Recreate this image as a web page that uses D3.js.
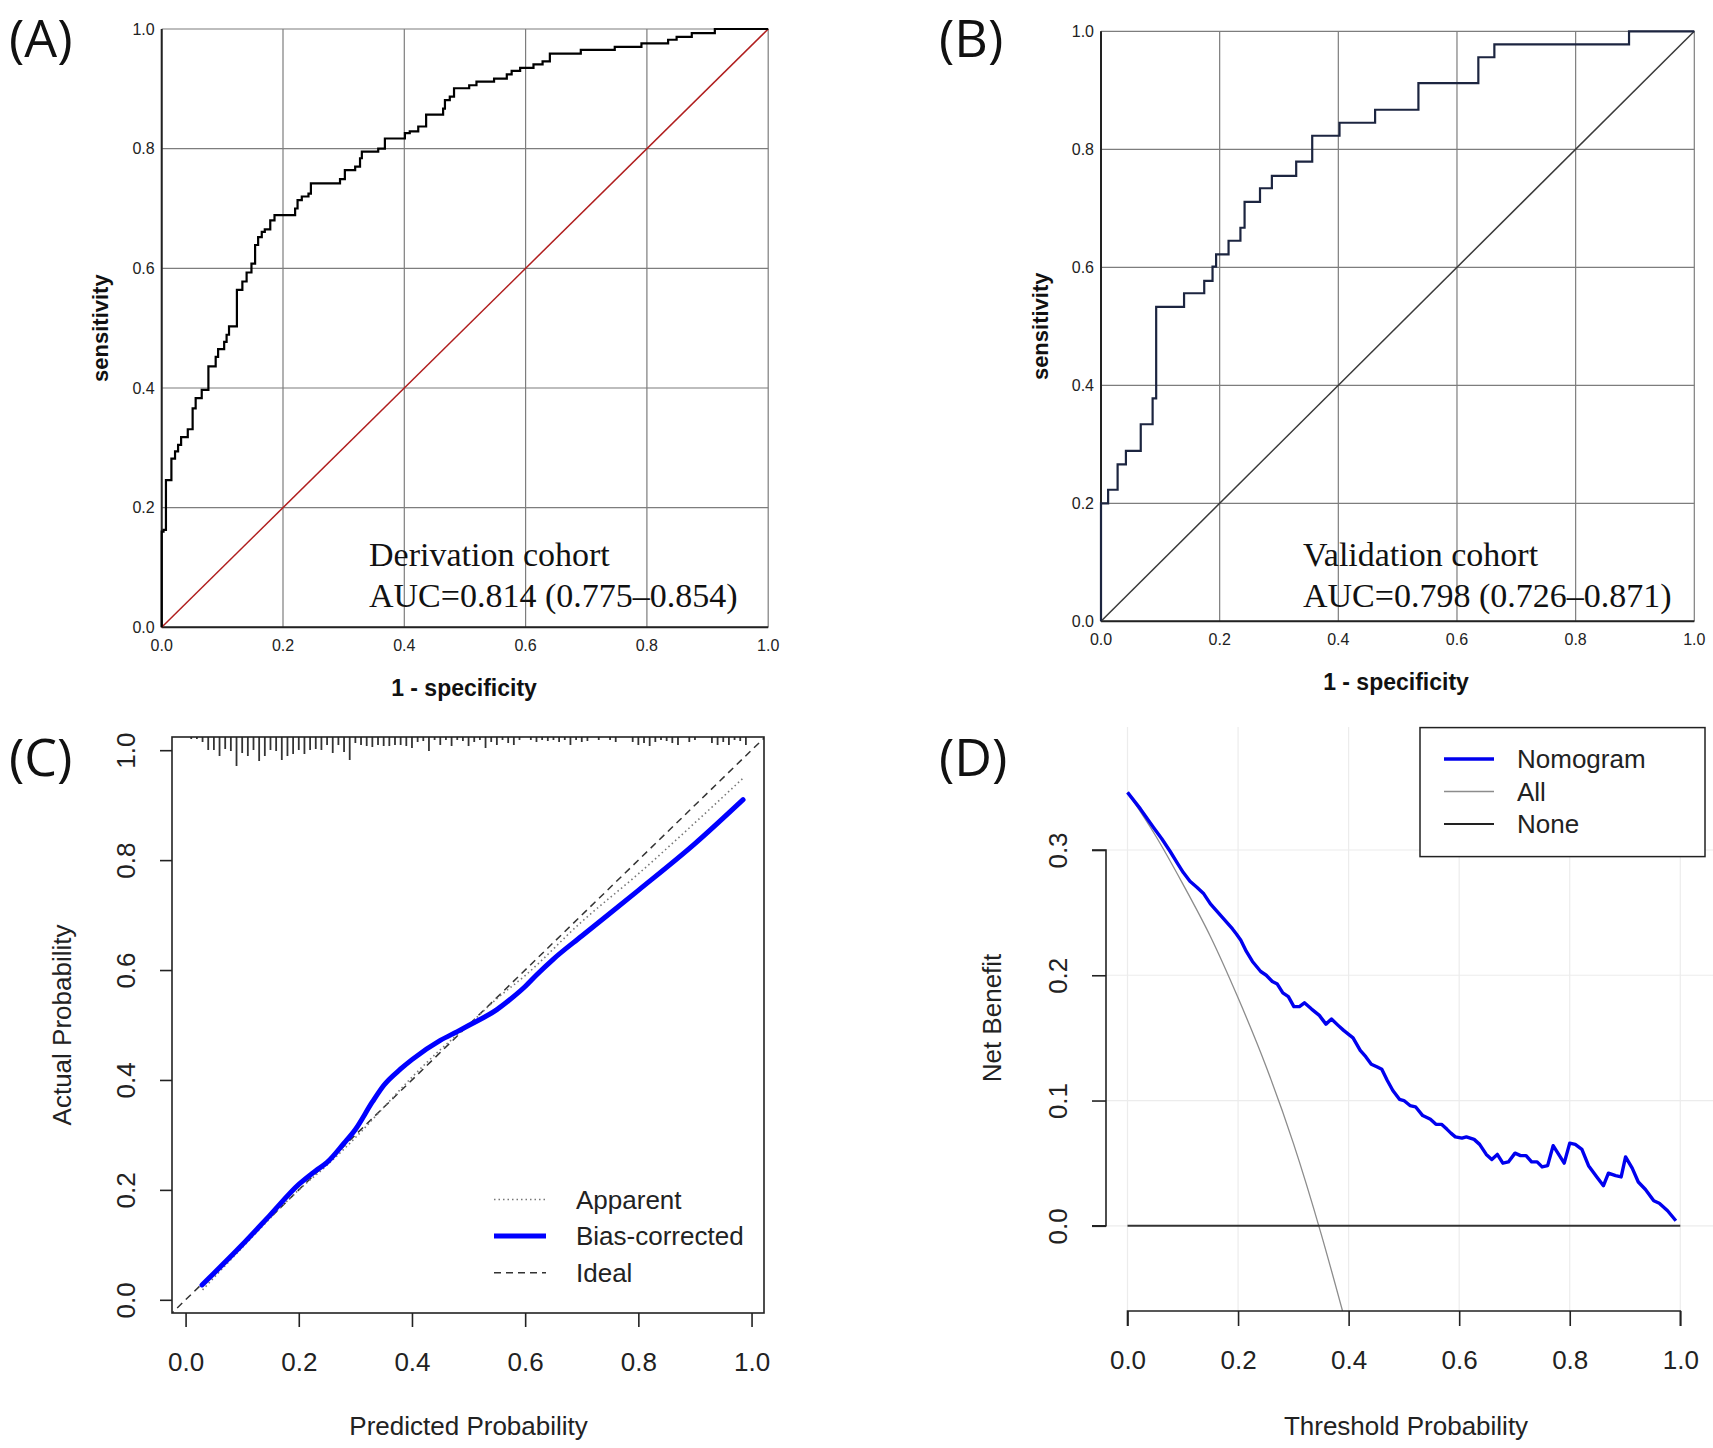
<!DOCTYPE html>
<html>
<head>
<meta charset="utf-8">
<script src="https://cdn.jsdelivr.net/npm/d3@7"></script>
<style>
  body { margin: 0; background: #fff; }
  svg { display: block; }
</style>
</head>
<body>
<script>
// ---- data ----
const rocTicks = [0, 0.2, 0.4, 0.6, 0.8, 1.0];

// (A) derivation cohort ROC, corner points [1 - specificity, sensitivity]
const rocA = [[0,0],[0,0.160],[0.003,0.163],[0.007,0.246],[0.016,0.282],[0.022,0.294],[0.027,0.305],[0.032,0.318],[0.043,0.331],
  [0.051,0.366],[0.056,0.383],[0.066,0.397],[0.077,0.436],[0.089,0.452],[0.093,0.465],[0.103,0.477],[0.107,0.489],[0.111,0.503],
  [0.124,0.564],[0.133,0.578],[0.140,0.593],[0.148,0.608],[0.154,0.639],[0.159,0.652],[0.165,0.661],[0.170,0.665],[0.179,0.680],
  [0.186,0.689],[0.220,0.700],[0.224,0.714],[0.231,0.720],[0.242,0.725],[0.246,0.742],[0.294,0.749],[0.302,0.764],[0.319,0.770],
  [0.327,0.784],[0.330,0.795],[0.357,0.800],[0.368,0.817],[0.401,0.826],[0.409,0.829],[0.423,0.837],[0.436,0.857],[0.464,0.867],
  [0.467,0.881],[0.475,0.887],[0.482,0.901],[0.507,0.906],[0.519,0.912],[0.548,0.917],[0.569,0.924],[0.577,0.930],[0.591,0.935],
  [0.613,0.941],[0.628,0.946],[0.640,0.959],[0.691,0.965],[0.747,0.970],[0.791,0.976],[0.835,0.982],[0.849,0.987],[0.874,0.993],
  [0.912,1.0],[1.0,1.0]];

// (B) validation cohort ROC
const rocB = [[0,0],[0,0.2],[0.012,0.223],[0.028,0.266],[0.042,0.289],[0.067,0.334],[0.087,0.378],[0.093,0.533],[0.140,0.556],
  [0.174,0.577],[0.188,0.601],[0.194,0.622],[0.215,0.645],[0.235,0.667],[0.242,0.711],[0.268,0.734],[0.288,0.755],[0.329,0.779],
  [0.356,0.823],[0.402,0.845],[0.462,0.867],[0.535,0.912],[0.636,0.956],[0.663,0.978],[0.890,1.0],[1.0,1.0]];

const refLine = [[0,0],[1,1]];
const labelA = ["Derivation cohort", "AUC=0.814 (0.775\u20130.854)"];
const labelB = ["Validation cohort", "AUC=0.798 (0.726\u20130.871)"];

// (C) calibration
const calTicks = [0, 0.2, 0.4, 0.6, 0.8, 1.0];
const biasX = [0.029,0.1,0.15,0.2,0.23,0.25,0.28,0.3,0.33,0.35,0.38,0.4,0.45,0.48,0.5,0.55,0.58,0.6,0.62,0.65,0.7,0.8,0.9,0.985];
const biasY = [0.027,0.10,0.155,0.21,0.235,0.25,0.285,0.31,0.36,0.39,0.42,0.437,0.472,0.488,0.499,0.528,0.552,0.57,0.591,0.62,0.662,0.745,0.83,0.91];
const appX = [0.03,0.1,0.2,0.25,0.3,0.35,0.4,0.45,0.5,0.55,0.6,0.7,0.8,0.9,0.985];
const appY = [0.018,0.095,0.2,0.245,0.295,0.35,0.405,0.455,0.5,0.548,0.59,0.688,0.775,0.868,0.949];
const idealX = [-0.03, 1.03];
const rugX = [0.01,0.02,0.03,0.04,0.05,0.06,0.07,0.08,0.09,0.10,0.11,0.12,0.13,0.14,0.15,0.16,0.17,0.18,0.19,0.20,
  0.21,0.22,0.23,0.24,0.25,0.26,0.27,0.28,0.29,0.30,0.31,0.32,0.33,0.34,0.35,0.36,0.37,0.38,0.39,0.40,
  0.41,0.42,0.43,0.44,0.45,0.46,0.47,0.48,0.49,0.50,0.51,0.52,0.53,0.54,0.55,0.56,0.57,0.58,0.59,0.60,
  0.61,0.62,0.63,0.64,0.65,0.66,0.67,0.68,0.69,0.70,0.71,0.72,0.73,0.74,0.75,0.76,0.77,0.78,0.79,0.80,
  0.81,0.82,0.83,0.84,0.85,0.86,0.87,0.88,0.89,0.90,0.91,0.92,0.93,0.94,0.95,0.96,0.97,0.98,0.99];
const rugN = [2,2,5,13,13,19,12,14,29,16,19,13,24,19,13,14,23,19,17,13,
  17,13,12,13,8,16,8,15,23,6,8,9,10,8,9,9,8,8,9,11,
  5,4,14,3,8,3,9,3,4,9,5,3,11,5,8,3,6,8,3,0,
  3,5,3,4,3,5,3,8,3,5,4,0,3,0,3,5,0,0,5,8,
  6,9,5,3,4,6,8,0,5,3,0,0,6,8,5,8,3,4,8];
const calLegend = ["Apparent", "Bias-corrected", "Ideal"];

// (D) decision curve
const dcaXTicks = [0, 0.2, 0.4, 0.6, 0.8, 1.0];
const dcaYTicks = [0, 0.1, 0.2, 0.3];
const nomX = [0,0.023,0.047,0.062,0.077,0.091,0.101,0.113,0.126,0.138,0.150,0.160,0.172,0.182,0.190,0.197,0.205,0.215,0.226,0.241,
  0.251,0.262,0.271,0.281,0.291,0.301,0.311,0.320,0.333,0.347,0.359,0.369,0.381,0.391,0.408,0.421,0.431,0.441,0.451,0.460,
  0.470,0.480,0.492,0.500,0.511,0.521,0.534,0.548,0.558,0.568,0.578,0.585,0.593,0.605,0.613,0.627,0.637,0.649,0.659,0.669,
  0.679,0.689,0.701,0.711,0.721,0.731,0.741,0.750,0.760,0.770,0.780,0.790,0.800,0.810,0.822,0.834,0.849,0.861,0.870,0.883,
  0.893,0.901,0.913,0.924,0.937,0.952,0.962,0.977,0.992];
const nomY = [0.346,0.333,0.318,0.309,0.299,0.289,0.282,0.275,0.270,0.265,0.257,0.252,0.246,0.241,0.237,0.233,0.228,0.219,0.211,0.203,
  0.200,0.195,0.193,0.186,0.183,0.175,0.175,0.178,0.173,0.168,0.161,0.165,0.160,0.156,0.150,0.140,0.135,0.129,0.127,0.125,
  0.116,0.108,0.101,0.100,0.096,0.095,0.088,0.085,0.081,0.081,0.077,0.074,0.071,0.070,0.071,0.069,0.065,0.057,0.053,0.057,
  0.050,0.051,0.058,0.056,0.056,0.051,0.051,0.047,0.048,0.064,0.057,0.050,0.066,0.065,0.061,0.048,0.039,0.032,0.042,0.040,
  0.039,0.055,0.046,0.035,0.029,0.020,0.018,0.012,0.004];
const allX = [0,0.05,0.1,0.15,0.2,0.25,0.3,0.35,0.389];
const allY = [0.346,0.312,0.273,0.231,0.182,0.128,0.066,-0.006,-0.068];
const noneX = [0, 1];
const noneY = [0, 0];
const dcaLegend = ["Nomogram", "All", "None"];

// ---- drawing ----
const svg = d3.select("body").append("svg").attr("width", 1713).attr("height", 1448);
svg.append("rect").attr("width", 1713).attr("height", 1448).attr("fill", "#fff");

const SANS = "'Liberation Sans', Arial, sans-serif";
const NARROW = "'Liberation Sans Narrow', 'Arial Narrow', 'Liberation Sans', sans-serif";
const fmt1 = d3.format(".1f");

const panelLetter = (x, y, txt) => svg.append("text")
  .attr("x", x).attr("y", y).attr("dy", "0.35em")
  .attr("font-family", "'Open Sans', 'Noto Sans', sans-serif").attr("font-size", 52)
  .attr("fill", "#111").text(txt);

panelLetter(9, 39, "(A)");
panelLetter(939, 39, "(B)");
panelLetter(9, 758, "(C)");
panelLetter(939, 758, "(D)");

// ROC panels
function rocPanel(opt) {
  const x = d3.scaleLinear().domain([0, 1]).range(opt.xr);
  const y = d3.scaleLinear().domain([0, 1]).range(opt.yr);
  const g = svg.append("g");

  g.selectAll(".vg").data(rocTicks).enter().append("line")
    .attr("x1", d => x(d)).attr("x2", d => x(d)).attr("y1", y(0)).attr("y2", y(1))
    .attr("stroke", "#7d7d7d").attr("stroke-width", 1.2);
  g.selectAll(".hg").data(rocTicks).enter().append("line")
    .attr("x1", x(0)).attr("x2", x(1)).attr("y1", d => y(d)).attr("y2", d => y(d))
    .attr("stroke", "#7d7d7d").attr("stroke-width", 1.2);
  // axes
  g.append("line").attr("x1", x(0)).attr("x2", x(0)).attr("y1", y(0)).attr("y2", y(1))
    .attr("stroke", "#222").attr("stroke-width", 2);
  g.append("line").attr("x1", x(0)).attr("x2", x(1)).attr("y1", y(0)).attr("y2", y(0))
    .attr("stroke", "#222").attr("stroke-width", 2);

  g.selectAll(".xl").data(rocTicks).enter().append("text")
    .attr("x", d => x(d)).attr("y", y(0) + opt.xlab).attr("dy", "0.35em")
    .attr("text-anchor", "middle").attr("font-family", NARROW).attr("font-size", 16)
    .attr("fill", "#222").text(fmt1);
  g.selectAll(".yl").data(rocTicks).enter().append("text")
    .attr("x", x(0) - 7).attr("y", d => y(d)).attr("dy", "0.35em")
    .attr("text-anchor", "end").attr("font-family", NARROW).attr("font-size", 16)
    .attr("fill", "#222").text(fmt1);

  const line = d3.line().x(d => x(d[0])).y(d => y(d[1]));
  g.append("path").datum(refLine).attr("d", line).attr("fill", "none")
    .attr("stroke", opt.refColor).attr("stroke-width", 1.5);
  g.append("path").datum(opt.data).attr("d", line.curve(d3.curveStepAfter)).attr("fill", "none")
    .attr("stroke", opt.color).attr("stroke-width", 2.2);

  g.append("text").attr("x", opt.titleX).attr("y", opt.titleY).attr("dy", "0.35em")
    .attr("text-anchor", "middle").attr("font-family", SANS).attr("font-weight", "bold")
    .attr("font-size", 23).attr("fill", "#111").text("1 - specificity");
  g.append("text").attr("transform", `translate(${opt.senX},${(y(0) + y(1)) / 2}) rotate(-90)`)
    .attr("dy", "0.35em").attr("text-anchor", "middle").attr("font-family", SANS)
    .attr("font-weight", "bold").attr("font-size", 22).attr("fill", "#111").text("sensitivity");

  g.selectAll(".ann").data(opt.label).enter().append("text")
    .attr("x", opt.annX).attr("y", (d, i) => 566 + i * 41)
    .attr("font-family", "'Liberation Serif', 'Times New Roman', serif").attr("font-size", 34)
    .attr("fill", "#111").text(d => d);
}

rocPanel({ xr: [161.7, 768.2], yr: [627.3, 29], data: rocA, color: "#000", refColor: "#b01e1e",
  xlab: 18, titleX: 464, titleY: 688, senX: 100, annX: 369, label: labelA });
rocPanel({ xr: [1101, 1694.3], yr: [621.3, 31.3], data: rocB, color: "#1c2540", refColor: "#3a3a3a",
  xlab: 18, titleX: 1396, titleY: 682, senX: 1040, annX: 1303, label: labelB });

// (C) calibration
{
  const x = d3.scaleLinear().domain([-0.024, 1.022]).range([172, 764]);
  const y = d3.scaleLinear().domain([-0.024, 1.024]).range([1313, 737]);
  const g = svg.append("g");
  g.append("clipPath").attr("id", "clipC").append("rect")
    .attr("x", 172).attr("y", 737).attr("width", 592).attr("height", 576);

  const rugLen = d3.scaleLinear().domain([0, 30]).range([0, 30]);
  g.selectAll(".rug").data(rugX).enter().append("line")
    .attr("x1", d => x(d)).attr("x2", d => x(d)).attr("y1", 737)
    .attr("y2", (d, i) => 737 + rugLen(rugN[i]))
    .attr("stroke", "#333").attr("stroke-width", 1.8);

  const line = d3.line().x(d => x(d[0])).y(d => y(d[1])).curve(d3.curveMonotoneX);
  g.append("path").datum(idealX.map(v => [v, v])).attr("d", d3.line().x(d => x(d[0])).y(d => y(d[1])))
    .attr("clip-path", "url(#clipC)").attr("fill", "none")
    .attr("stroke", "#333").attr("stroke-width", 1.5).attr("stroke-dasharray", "7,5");
  g.append("path").datum(appX.map((v, i) => [v, appY[i]])).attr("d", line).attr("fill", "none")
    .attr("stroke", "#777").attr("stroke-width", 1.6).attr("stroke-dasharray", "1.5,3");
  g.append("path").datum(biasX.map((v, i) => [v, biasY[i]])).attr("d", line).attr("fill", "none")
    .attr("stroke", "#0000ff").attr("stroke-width", 5).attr("stroke-linecap", "round");

  g.append("rect").attr("x", 172).attr("y", 737).attr("width", 592).attr("height", 576)
    .attr("fill", "none").attr("stroke", "#222").attr("stroke-width", 1.6);

  const xa = g.append("g").attr("transform", "translate(0,1313)")
    .call(d3.axisBottom(x).tickValues(calTicks).tickFormat(fmt1).tickSize(14).tickPadding(26));
  xa.select(".domain").remove();
  const ya = g.append("g").attr("transform", "translate(172,0)")
    .call(d3.axisLeft(y).tickValues(calTicks).tickFormat(fmt1).tickSize(12).tickPadding(0));
  ya.select(".domain").remove();
  [xa, ya].forEach(a => {
    a.selectAll("line").attr("stroke", "#222").attr("stroke-width", 1.6);
    a.selectAll("text").attr("font-family", SANS).attr("font-size", 26).attr("fill", "#222");
  });
  ya.selectAll("text").attr("text-anchor", "middle").attr("dy", "0.35em").attr("x", 0)
    .attr("transform", "translate(-46,0) rotate(-90)");

  g.append("text").attr("x", (x(0) + x(1)) / 2).attr("y", 1426).attr("dy", "0.35em")
    .attr("text-anchor", "middle").attr("font-family", SANS).attr("font-size", 26)
    .attr("fill", "#222").text("Predicted Probability");
  g.append("text").attr("transform", `translate(62,${(y(0) + y(1)) / 2}) rotate(-90)`)
    .attr("dy", "0.35em").attr("text-anchor", "middle").attr("font-family", SANS)
    .attr("font-size", 26).attr("fill", "#222").text("Actual Probability");

  const styles = [
    { stroke: "#777", w: 1.6, dash: "1.5,3" },
    { stroke: "#0000ff", w: 5, dash: null },
    { stroke: "#333", w: 1.5, dash: "7,5" }];
  const leg = g.selectAll(".lg").data(calLegend).enter().append("g")
    .attr("transform", (d, i) => `translate(494,${1199.5 + i * 36.6})`);
  leg.append("line").attr("x1", 0).attr("x2", 52)
    .attr("stroke", (d, i) => styles[i].stroke).attr("stroke-width", (d, i) => styles[i].w)
    .attr("stroke-dasharray", (d, i) => styles[i].dash);
  leg.append("text").attr("x", 82).attr("dy", "0.35em").attr("font-family", SANS)
    .attr("font-size", 26).attr("fill", "#222").text(d => d);
}

// (D) decision curve
{
  const x = d3.scaleLinear().domain([0, 1]).range([1127.5, 1680.3]);
  const y = d3.scaleLinear().domain([0, 0.3]).range([1225.8, 850]);
  const g = svg.append("g");

  g.selectAll(".vg").data(dcaXTicks).enter().append("line")
    .attr("x1", d => x(d)).attr("x2", d => x(d)).attr("y1", 727).attr("y2", 1311)
    .attr("stroke", "#ececec").attr("stroke-width", 1.2);
  g.selectAll(".hg").data(dcaYTicks).enter().append("line")
    .attr("x1", 1106).attr("x2", 1713).attr("y1", d => y(d)).attr("y2", d => y(d))
    .attr("stroke", "#ececec").attr("stroke-width", 1.2);

  const line = d3.line().x(d => x(d[0])).y(d => y(d[1]));
  g.append("path").datum(allX.map((v, i) => [v, allY[i]])).attr("d", line.curve(d3.curveMonotoneX))
    .attr("fill", "none").attr("stroke", "#8c8c8c").attr("stroke-width", 1.3);
  g.append("path").datum(noneX.map((v, i) => [v, noneY[i]])).attr("d", d3.line().x(d => x(d[0])).y(d => y(d[1])))
    .attr("fill", "none").attr("stroke", "#333").attr("stroke-width", 2);
  g.append("path").datum(nomX.map((v, i) => [v, nomY[i]])).attr("d", d3.line().x(d => x(d[0])).y(d => y(d[1])))
    .attr("fill", "none").attr("stroke", "#0000ee").attr("stroke-width", 3.4).attr("stroke-linejoin", "round");

  const xa = g.append("g").attr("transform", "translate(0,1311)")
    .call(d3.axisBottom(x).tickValues(dcaXTicks).tickFormat(fmt1).tickSizeOuter(0).tickSize(15).tickPadding(25));
  const ya = g.append("g").attr("transform", "translate(1106,0)")
    .call(d3.axisLeft(y).tickValues(dcaYTicks).tickFormat(fmt1).tickSizeOuter(0).tickSize(14).tickPadding(0));
  [xa, ya].forEach(a => {
    a.selectAll("line, .domain").attr("stroke", "#222").attr("stroke-width", 1.6);
    a.selectAll("text").attr("font-family", SANS).attr("font-size", 26).attr("fill", "#222");
  });
  xa.select(".domain").attr("d", `M${x(0)},15V0H${x(1)}V15`);
  ya.select(".domain").attr("d", `M-14,${y(0)}H0V${y(0.3)}H-14`);
  ya.selectAll("text").attr("text-anchor", "middle").attr("dy", "0.35em").attr("x", 0)
    .attr("transform", "translate(-48,0) rotate(-90)");

  g.append("text").attr("x", 1406).attr("y", 1426).attr("dy", "0.35em")
    .attr("text-anchor", "middle").attr("font-family", SANS).attr("font-size", 26)
    .attr("fill", "#222").text("Threshold Probability");
  g.append("text").attr("transform", "translate(992,1018) rotate(-90)")
    .attr("dy", "0.35em").attr("text-anchor", "middle").attr("font-family", SANS)
    .attr("font-size", 26).attr("fill", "#222").text("Net Benefit");

  g.append("rect").attr("x", 1420).attr("y", 727.6).attr("width", 285).attr("height", 129)
    .attr("fill", "#fff").attr("stroke", "#222").attr("stroke-width", 1.5);
  const styles = [
    { stroke: "#0000ee", w: 3.4 },
    { stroke: "#8c8c8c", w: 1.3 },
    { stroke: "#222", w: 2 }];
  const leg = g.selectAll(".lg").data(dcaLegend).enter().append("g")
    .attr("transform", (d, i) => `translate(1444,${759 + i * 32.5})`);
  leg.append("line").attr("x1", 0).attr("x2", 50)
    .attr("stroke", (d, i) => styles[i].stroke).attr("stroke-width", (d, i) => styles[i].w);
  leg.append("text").attr("x", 73).attr("dy", "0.35em").attr("font-family", SANS)
    .attr("font-size", 26).attr("fill", "#222").text(d => d);
}
</script>
</body>
</html>
